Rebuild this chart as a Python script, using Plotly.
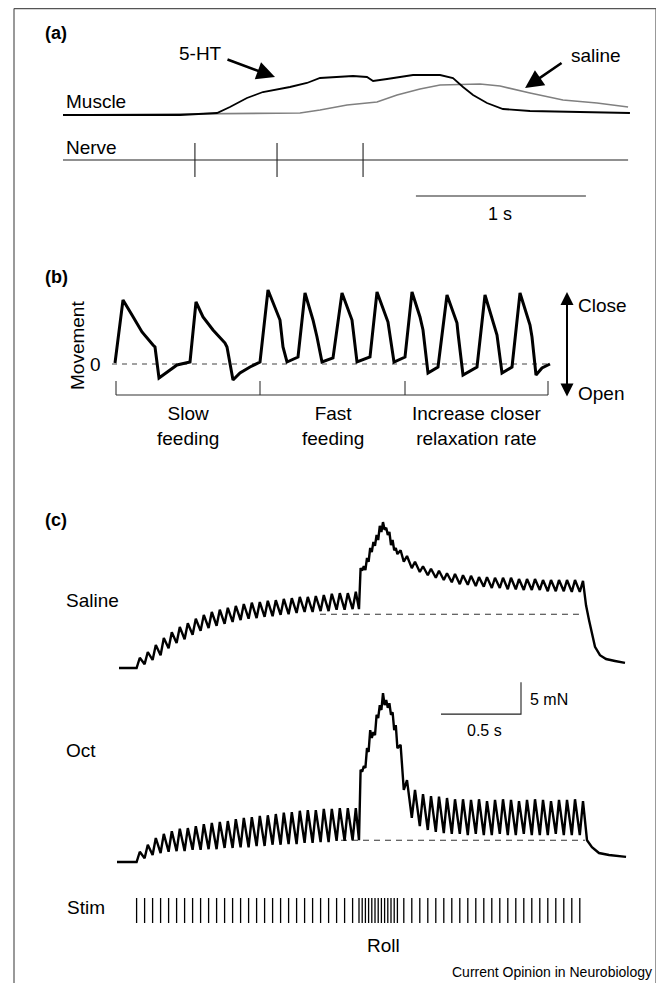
import plotly.graph_objects as go

# The page body adds an 8 px margin, so the figure is drawn 8 px in from the window edge.
PAGE_W, PAGE_H, BODY = 664, 983, 8
W, H = PAGE_W - BODY, PAGE_H - BODY
FONT = "Liberation Sans, Arial, Helvetica, sans-serif"

# ---------------- Panel (a): muscle tension (a.u.) vs time (s) ----------------
a_5ht_time = [0.0, 0.688, 0.906, 0.982, 1.082, 1.176, 1.335, 1.435, 1.512, 1.706, 1.788,
              1.824, 1.906, 2.059, 2.218, 2.294, 2.353, 2.412, 2.494, 2.588, 2.747, 3.041,
              3.141, 3.335]
a_5ht_tension = [0.0, 0.0, 0.05, 0.2, 0.425, 0.575, 0.7, 0.8, 0.925, 0.975, 0.95,
                 0.85, 0.9, 1.0, 1.0, 0.925, 0.7, 0.5, 0.3, 0.15, 0.1, 0.075,
                 0.05, 0.05]
a_sal_time = [0.0, 0.906, 1.394, 1.512, 1.671, 1.847, 1.965, 2.1, 2.218, 2.453, 2.571,
              2.747, 2.941, 3.141, 3.324]
a_sal_tension = [0.0, 0.025, 0.05, 0.125, 0.25, 0.325, 0.5, 0.65, 0.75, 0.775, 0.725,
                 0.55, 0.375, 0.3, 0.2]
a_nerve_span = [0.0, 3.324]
a_spike_times = [0.776, 1.259, 1.765]
a_scale_s = [2.076, 3.076]          # 1 s scale bar

# ---------------- Panel (b): movement (a.u.) vs time (a.u.) ----------------
b_time = [0.0, 0.8, 1.7, 2.7, 3.8, 4.0, 4.4, 5.2, 6.2, 7.5, 8.1, 8.8, 9.8, 11.0, 11.2,
          11.8, 12.5, 13.5, 14.5, 15.3, 15.8, 16.5, 16.8, 17.2, 18.3, 19.0, 19.8, 20.2,
          20.7, 21.8, 22.7, 23.7, 24.2, 25.5, 26.2, 27.3, 27.9, 29.0, 29.7, 30.5, 30.8,
          31.3, 32.3, 33.2, 34.2, 34.3, 34.8, 36.2, 37.0, 37.8, 38.2, 38.7, 39.7, 40.5,
          41.5, 41.7, 42.1, 42.7, 43.5]
b_move = [0.1, 6.4, 4.9, 3.2, 1.9, 1.7, -1.4, -0.8, -0.1, 0.2, 6.2, 4.7, 3.4, 2.1, 1.7,
          -1.6, -0.9, -0.3, 0.2, 7.4, 6.1, 4.4, 1.7, 0.2, 0.7, 7.1, 4.4, 2.7,
          0.2, 0.6, 7.1, 4.4, 0.2, 0.7, 7.2, 4.2, 0.2, 0.7, 7.2, 4.7, 3.4,
          -0.9, -0.3, 6.9, 4.1, 3.1, -1.1, -0.3, 6.9, 4.1, 2.9, -0.9, -0.3, 7.1,
          3.9, 2.7, -1.1, -0.4, 0.0]
b_zero_span = [-0.3, 43.5]
b_phase_edges = [0.1, 14.5, 29.0, 43.3]
b_phase_labels = ["Slow<br>feeding", "Fast<br>feeding", "Increase closer<br>relaxation rate"]

# ---------------- Panel (c): force (mN) vs time (s) ----------------
c_stim = [0.11, 0.16, 0.21, 0.26, 0.31, 0.36, 0.41, 0.46, 0.51, 0.56, 0.61, 0.66, 0.71, 0.76,
          0.81, 0.86, 0.91, 0.96, 1.01, 1.06, 1.11, 1.16, 1.21, 1.26, 1.31, 1.36, 1.41, 1.46,
          1.50, 1.52, 1.54, 1.56, 1.58, 1.60, 1.62, 1.64, 1.66, 1.68, 1.70, 1.72, 1.74,
          1.78, 1.83, 1.88, 1.93, 1.98, 2.03, 2.08, 2.13, 2.18, 2.23, 2.28, 2.33, 2.38,
          2.43, 2.48, 2.53, 2.58, 2.63, 2.68, 2.73, 2.78, 2.83, 2.88]

c_sal_trough = [0, 0.6, 1.25, 2.0, 3.1, 3.9, 4.5, 5.2, 5.8, 6.25, 6.6, 6.9, 7.2, 7.5, 7.7,
                7.8, 8.0, 8.1, 8.3, 8.4, 8.6, 8.75, 8.75, 8.9, 8.9, 9.1, 9.1, 9.2,
                9.2, 15.2, 15.3, 16.6, 18.1, 19.1, 20.0, 21.25, 21.6, 20.8, 19.2, 18.4, 17.8,
                16.6, 15.6, 15.0, 14.5, 14.1, 13.75, 13.4, 13.1, 13.0, 12.8, 12.7, 12.5, 12.5,
                12.3, 12.3, 12.2, 12.2, 12.2, 12.0, 12.0, 12.0, 11.9, 11.9]
c_sal_peak = [1.6, 2.5, 3.6, 4.7, 5.6, 6.4, 7.0, 7.7, 8.3, 8.75, 9.1, 9.4, 9.7, 10.0, 10.2,
              10.3, 10.5, 10.6, 10.8, 10.9, 11.1, 11.1, 11.25, 11.4, 11.6, 11.7, 11.7, 11.9,
              15.6, 15.9, 17.2, 18.75, 19.7, 20.8, 22.2, 22.8, 21.9, 21.25, 20.0, 18.75, 18.4,
              17.5, 16.6, 15.9, 15.5, 15.2, 14.8, 14.7, 14.5, 14.4, 14.2, 14.2, 14.1, 14.1,
              14.1, 13.9, 13.9, 13.9, 13.75, 13.75, 13.75, 13.75, 13.75, 13.6]
c_sal_start = 0.0
c_sal_tail_t = [2.919, 2.9375, 2.956, 2.975, 3.006, 3.044, 3.1, 3.1625]
c_sal_tail_f = [9.8, 7.5, 5.2, 3.3, 2.0, 1.4, 1.1, 0.8]
c_sal_ref = [1.256, 2.894, 8.4]          # dashed reference level (start, end, mN)

c_oct_trough = [0, 0.6, 1.1, 1.4, 1.6, 1.7, 1.7, 1.9, 1.9, 2.0, 2.0, 2.2, 2.2, 2.3, 2.3,
                2.5, 2.5, 2.7, 2.7, 2.8, 2.8, 3.0, 3.0, 3.1, 3.1, 3.3, 3.3, 3.4,
                3.4, 14.1, 14.7, 17.2, 19.4, 19.8, 22.5, 23.75, 24.5, 24.1, 23.0, 20.6, 17.8,
                11.25, 6.9, 5.6, 5.0, 4.7, 4.5, 4.4, 4.4, 4.2, 4.4, 4.2, 4.2, 4.4,
                4.2, 4.2, 4.4, 4.2, 4.2, 4.2, 4.4, 4.2, 4.2, 4.2]
c_oct_peak = [1.6, 2.7, 3.75, 4.4, 4.8, 5.2, 5.3, 5.6, 5.9, 6.1, 6.25, 6.4, 6.7, 6.9, 7.0,
              7.2, 7.3, 7.5, 7.7, 7.8, 8.0, 8.1, 8.1, 8.3, 8.3, 8.4, 8.4, 8.4,
              14.4, 15.0, 17.8, 20.6, 20.3, 23.0, 24.5, 26.4, 25.3, 24.8, 23.4, 21.4, 18.3,
              12.8, 11.25, 10.6, 10.3, 10.2, 10.0, 9.8, 9.8, 9.7, 9.8, 9.5, 9.7, 9.8,
              9.7, 9.5, 9.7, 9.8, 9.7, 9.5, 9.7, 9.7, 9.8, 9.5]
c_oct_start = -0.0125
c_oct_tail_t = [2.925, 2.956, 3.0, 3.0625, 3.169]
c_oct_tail_f = [3.4, 2.3, 1.4, 1.1, 0.8]
c_oct_ref = [1.3875, 2.9125, 3.4]

c_scale_s = 0.5
c_scale_mN = 5.0
c_scale_origin = [2.0125, 23.1]           # corner of the scale bar (s, mN on Oct axis)


def twitch_path(start, stims, troughs, peaks, tail_t, tail_f):
    xs, ys = [start], [0.0]
    for i, s in enumerate(stims):
        gap = (stims[i + 1] - s) if i + 1 < len(stims) else 0.05
        rise = min(0.02, gap / 2)
        xs += [s, s + rise]
        ys += [troughs[i], peaks[i]]
    return xs + tail_t, ys + tail_f


# ---- axis calibration: page pixel of the data origin and pixels per data unit
def xrange_for(origin_px, px_per_unit):
    return [(BODY - origin_px) / px_per_unit, (PAGE_W - origin_px) / px_per_unit]


def yrange_for(origin_py, px_per_unit):
    return [(origin_py - PAGE_H) / px_per_unit, (origin_py - BODY) / px_per_unit]


fig = go.Figure()

# ---- (a)
fig.add_trace(go.Scatter(x=a_sal_time, y=a_sal_tension, mode="lines",
                         line=dict(color="#808080", width=1.6), xaxis="x", yaxis="y"))
fig.add_trace(go.Scatter(x=a_5ht_time, y=a_5ht_tension, mode="lines",
                         line=dict(color="black", width=1.8), xaxis="x", yaxis="y"))
nx, ny = [a_nerve_span[0]], [0]
for s in a_spike_times:
    nx += [s, s, s, s]
    ny += [0, 1, -1, 0]
nx.append(a_nerve_span[1]); ny.append(0)
fig.add_trace(go.Scatter(x=nx, y=ny, mode="lines", line=dict(color="#222", width=1.1),
                         xaxis="x", yaxis="y2"))
fig.add_trace(go.Scatter(x=a_scale_s, y=[-2.118, -2.118], mode="lines",
                         line=dict(color="#222", width=1.1), xaxis="x", yaxis="y2"))

# ---- (b)
fig.add_trace(go.Scatter(x=b_zero_span, y=[0, 0], mode="lines",
                         line=dict(color="#444", width=1.2, dash="5px,5px"), xaxis="x2", yaxis="y3"))
fig.add_trace(go.Scatter(x=b_time, y=b_move, mode="lines",
                         line=dict(color="black", width=3), xaxis="x2", yaxis="y3"))
bx = [b_phase_edges[0], b_phase_edges[-1], None]
by = [-3.1, -3.1, None]
for e in b_phase_edges:
    bx += [e, e, None]
    by += [-1.7, -3.1, None]
fig.add_trace(go.Scatter(x=bx, y=by, mode="lines", line=dict(color="#333", width=1.1),
                         xaxis="x2", yaxis="y3"))

# ---- (c)
fig.add_trace(go.Scatter(x=c_sal_ref[:2], y=[c_sal_ref[2]] * 2, mode="lines",
                         line=dict(color="#333", width=1.1, dash="6px,5px"), xaxis="x3", yaxis="y4"))
sx, sy = twitch_path(c_sal_start, c_stim, c_sal_trough, c_sal_peak, c_sal_tail_t, c_sal_tail_f)
fig.add_trace(go.Scatter(x=sx, y=sy, mode="lines", line=dict(color="black", width=2.4),
                         xaxis="x3", yaxis="y4"))
fig.add_trace(go.Scatter(x=c_oct_ref[:2], y=[c_oct_ref[2]] * 2, mode="lines",
                         line=dict(color="#333", width=1.1, dash="6px,5px"), xaxis="x3", yaxis="y5"))
ox, oy = twitch_path(c_oct_start, c_stim, c_oct_trough, c_oct_peak, c_oct_tail_t, c_oct_tail_f)
fig.add_trace(go.Scatter(x=ox, y=oy, mode="lines", line=dict(color="black", width=2.4),
                         xaxis="x3", yaxis="y5"))
x0, f0 = c_scale_origin
fig.add_trace(go.Scatter(x=[x0, x0 + c_scale_s, x0 + c_scale_s],
                         y=[f0, f0, f0 + c_scale_mN], mode="lines",
                         line=dict(color="#222", width=1.1), xaxis="x3", yaxis="y5"))
tx, ty = [], []
for s in c_stim:
    tx += [s, s, None]
    ty += [0, 1, None]
fig.add_trace(go.Scatter(x=tx, y=ty, mode="lines", line=dict(color="black", width=1.3),
                         xaxis="x3", yaxis="y6"))

inv = dict(visible=False, fixedrange=True, showgrid=False, zeroline=False, domain=[0, 1])
fig.update_layout(
    width=W, height=H, autosize=False, showlegend=False,
    margin=dict(l=0, r=0, t=0, b=0), paper_bgcolor="white", plot_bgcolor="white",
    font=dict(family=FONT, color="black", size=19),
    xaxis=dict(range=xrange_for(63, 170), anchor="y", **inv),
    yaxis=dict(range=yrange_for(115, 40), anchor="x", **inv),
    yaxis2=dict(range=yrange_for(160, 17), anchor="x", overlaying="y", **inv),
    xaxis2=dict(range=xrange_for(115, 10), anchor="y3", overlaying="x", **inv),
    yaxis3=dict(range=yrange_for(364, 10), anchor="x2", overlaying="y", **inv),
    xaxis3=dict(range=xrange_for(119, 160), anchor="y4", overlaying="x", **inv),
    yaxis4=dict(range=yrange_for(668, 6.4), anchor="x3", overlaying="y", **inv),
    yaxis5=dict(range=yrange_for(862, 6.4), anchor="x3", overlaying="y", **inv),
    yaxis6=dict(range=yrange_for(923, 25), anchor="x3", overlaying="y", **inv),
)


def P(px, py):
    return (px - BODY) / W, 1 - (py - BODY) / H


ann = []


def text(s, px, py, anchor="left", size=19, bold=False, angle=0):
    x, y = P(px, py)
    ann.append(dict(text=f"<b>{s}</b>" if bold else s, x=x, y=y, xref="paper", yref="paper",
                    xanchor=anchor, yanchor="middle", showarrow=False, textangle=angle,
                    font=dict(family=FONT, size=size, color="black")))


text("(a)", 43, 33, bold=True, size=18)
text("5-HT", 200, 54, "center")
text("saline", 596, 55, "center")
text("Muscle", 64, 101)
text("Nerve", 64, 147)
text("1 s", 500, 214, "center", size=18)
text("(b)", 43, 277, bold=True, size=18)
text("Movement", 77, 346, "center", angle=-90)
text("0", 95, 364, "center")
for i, lab in enumerate(b_phase_labels):
    cx = 115 + 10 * (b_phase_edges[i] + b_phase_edges[i + 1]) / 2
    text(lab, cx, 426, "center")
text("Close", 576, 305)
text("Open", 576, 394)
text("(c)", 43, 520, bold=True, size=18)
text("Saline", 64, 600)
text("Oct", 64, 750)
text("5 mN", 528, 699, size=16)
text("0.5 s", 484, 730, "center", size=16)
text("Stim", 65, 907)
text("Roll", 384, 945, "center")
text("Current Opinion in Neurobiology", 654, 972, "right", size=14)

# arrows pointing at the traces
ann.append(dict(x=1.247, y=0.95, xref="x", yref="y", ax=-49, ay=-18, text="",
                showarrow=True, arrowhead=2, arrowsize=1.4, arrowwidth=2.6, arrowcolor="black"))
ann.append(dict(x=2.718, y=0.675, xref="x", yref="y", ax=38, ay=-26, text="",
                showarrow=True, arrowhead=2, arrowsize=1.4, arrowwidth=2.6, arrowcolor="black"))
# close/open double arrow
ann.append(dict(x=45.2, y=7.2, xref="x2", yref="y3", ax=45.2, ay=-3.4, axref="x2", ayref="y3",
                text="", showarrow=True, arrowhead=2, arrowside="end+start", arrowsize=1.3,
                arrowwidth=2, arrowcolor="black"))

fig.update_layout(annotations=ann)

# figure frame (open at bottom)
fx0, fy0 = P(14, 8.6)
fx1, _ = P(656, 8.6)
for sh in [dict(x0=fx0, x1=fx0, y0=0, y1=fy0), dict(x0=fx0, x1=fx1, y0=fy0, y1=fy0),
           dict(x0=fx1, x1=fx1, y0=0, y1=fy0)]:
    fig.add_shape(type="line", xref="paper", yref="paper", line=dict(color="#555", width=1.2), **sh)

fig.write_html("out.html")
